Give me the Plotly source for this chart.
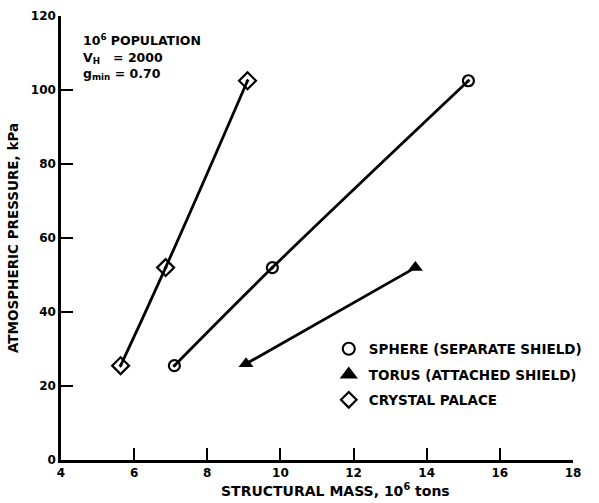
import plotly.graph_objects as go

# Data
sphere_x = [7.1, 9.78, 15.14]
sphere_y = [25.5, 52, 102.5]
torus_x = [9.06, 13.69]
torus_y = [26, 52]
palace_x = [5.63, 6.86, 9.1]
palace_y = [25.5, 52, 102.5]

legend_names = ["SPHERE (SEPARATE SHIELD)", "TORUS (ATTACHED SHIELD)", "CRYSTAL PALACE"]
x_ticks = [4, 6, 8, 10, 12, 14, 16, 18]
y_ticks = [0, 20, 40, 60, 80, 100, 120]
info_lines = ["10<sup>6</sup> POPULATION", "V<sub>H</sub>   = 2000", "g<sub>min</sub> = 0.70"]

FAM = "DejaVu Sans, Verdana, sans-serif"
TICKFONT = dict(family=FAM, size=12, color="black", weight="bold")
FONT = dict(family=FAM, size=13.5, color="black", weight="bold")

fig = go.Figure()

fig.add_trace(go.Scatter(x=palace_x, y=palace_y, mode="lines+markers",
                         line=dict(color="black", width=2.8, shape="spline", smoothing=1.3),
                         marker=dict(symbol="diamond-open-dot", size=13, color="black", line=dict(width=2.2)),
                         showlegend=False))
fig.add_trace(go.Scatter(x=sphere_x, y=sphere_y, mode="lines+markers",
                         line=dict(color="black", width=2.8, shape="spline", smoothing=1.0),
                         marker=dict(symbol="circle-open-dot", size=11, color="black", line=dict(width=2.2)),
                         showlegend=False))
fig.add_trace(go.Scatter(x=torus_x, y=torus_y, mode="lines+markers",
                         line=dict(color="black", width=2.8),
                         marker=dict(symbol="triangle-up", size=13, color="black"),
                         showlegend=False))

# legend-only entries
leg_symbols = ["circle-open", "triangle-up", "diamond-open"]
for i, (name, sym) in enumerate(zip(legend_names, leg_symbols)):
    fig.add_trace(go.Scatter(x=[None], y=[None], mode="markers", name=name,
                             legendgroup=f"g{i}",
                             marker=dict(symbol=sym, size=12, color="black", line=dict(width=2.2, color="black"))))

# info block
fig.add_annotation(xref="paper", yref="paper", x=0.04, y=(460 - 30) / 444,
                   xanchor="left", yanchor="top", align="left", showarrow=False,
                   font=dict(family=FAM, size=12.5, color="black", weight="bold"),
                   text="<br>".join(info_lines))

# x axis title (offset to the right as in the reference)
fig.add_annotation(xref="paper", yref="paper", x=0.537, y=-0.092, xanchor="center", yanchor="bottom",
                   showarrow=False, font=dict(family=FAM, size=14, color="black", weight="bold"),
                   text="STRUCTURAL MASS, 10<sup>6</sup> tons")

fig.update_layout(
    width=599, height=503,
    margin=dict(l=61, r=24, t=16, b=43),
    paper_bgcolor="white", plot_bgcolor="white",
    font=FONT,
    showlegend=True,
    legend=dict(x=0.523, y=0.285, xanchor="left", yanchor="top", font=FONT,
                tracegroupgap=5, bgcolor="rgba(0,0,0,0)", itemwidth=30),
    xaxis=dict(range=[4, 18], tickvals=x_ticks, ticks="inside", ticklen=12, tickwidth=2,
               tickcolor="black", showline=True, linecolor="black", linewidth=2.5,
               showgrid=False, zeroline=False, tickfont=TICKFONT, automargin=False),
    yaxis=dict(range=[0, 120], tickvals=y_ticks, ticks="inside", ticklen=12, tickwidth=2,
               tickcolor="black", showline=True, linecolor="black", linewidth=2.5,
               showgrid=False, zeroline=False, tickfont=TICKFONT, automargin=False,
               title=dict(text="ATMOSPHERIC PRESSURE, kPa", font=FONT, standoff=10)),
)

fig.write_html("out.html")
